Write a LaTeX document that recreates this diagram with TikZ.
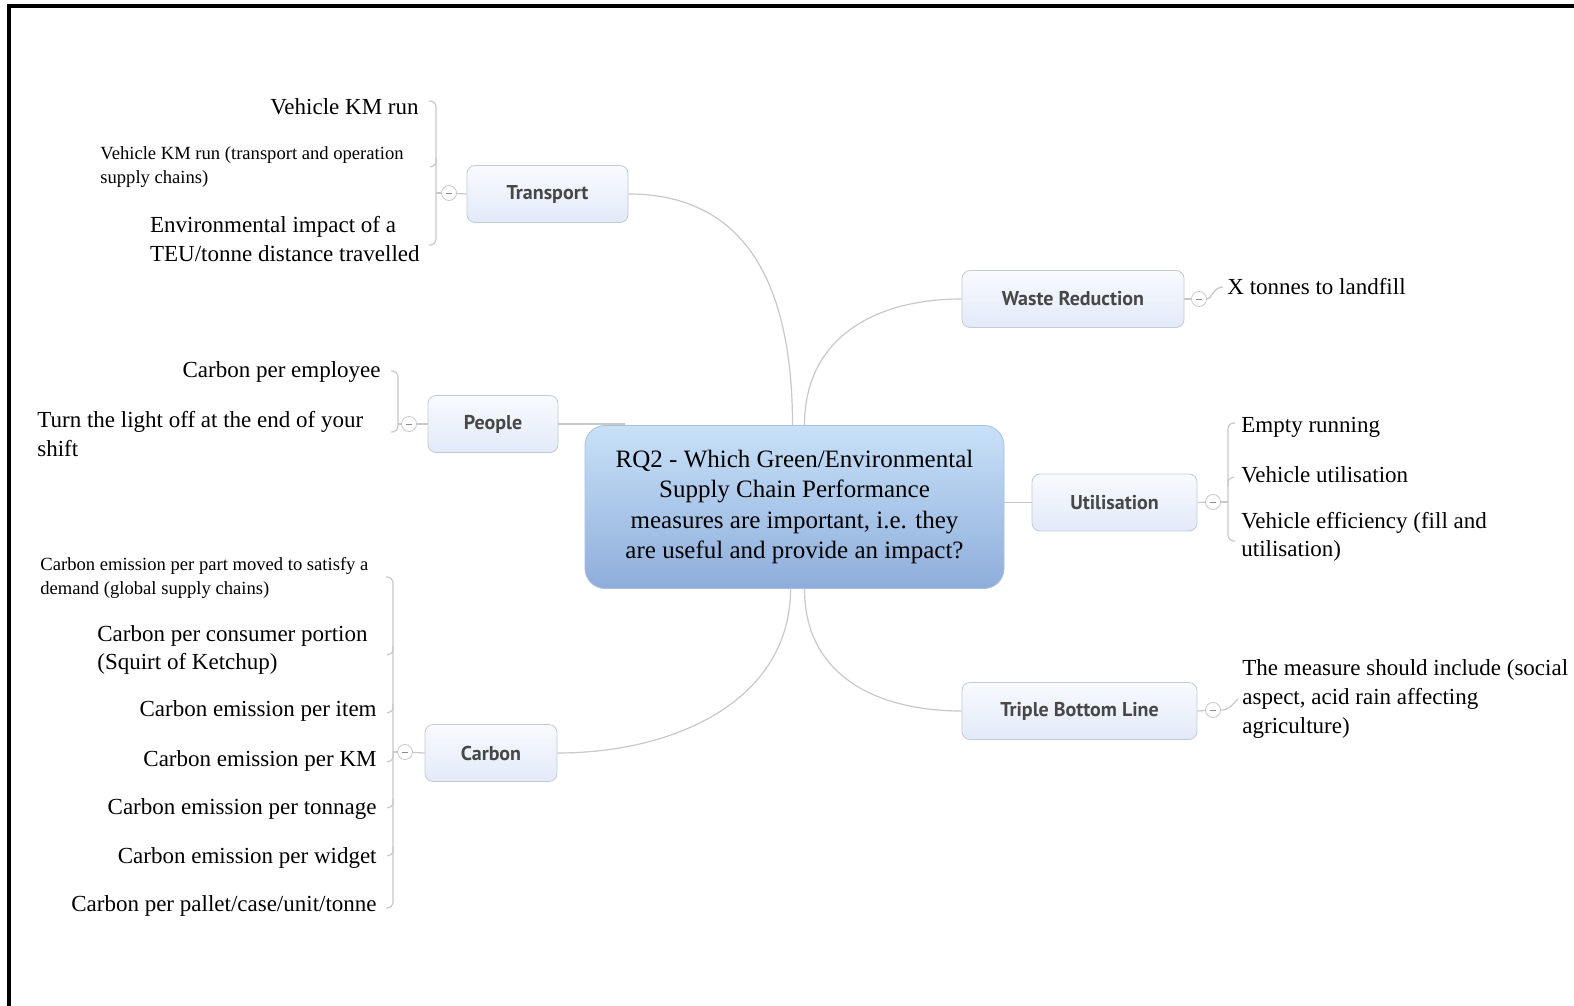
\documentclass[tikz,border=0pt]{standalone}
\usepackage{fontspec}
\setmainfont{Liberation Serif}
\newfontfamily\topicfont{PT Sans}

\definecolor{linegrey}{HTML}{C8C8C8}
\definecolor{topicedge}{HTML}{C4CAD4}
\definecolor{topictop}{HTML}{F8FAFE}
\definecolor{topicbot}{HTML}{E2EAF8}
\definecolor{rootedge}{HTML}{A9BFDD}
\definecolor{roottop}{HTML}{C8E1F8}
\definecolor{rootbot}{HTML}{8EADDA}

\tikzset{
	root/.style={draw=rootedge, rounded corners=10pt, top color=roottop, bottom color=rootbot,
		minimum width=209.5pt, minimum height=81.5pt, align=center, inner sep=0,
		font=\fontsize{12.5}{15.3}\selectfont},
	topic/.style={draw=topicedge, rounded corners=4pt, top color=topictop, bottom color=topicbot,
		minimum height=28.5pt, inner sep=0, text=black!72,
		font=\topicfont\bfseries\fontsize{10}{12}\selectfont},
	leaf/.style={inner sep=0, font=\fontsize{11.5}{14.3}\selectfont},
	smallleaf/.style={inner sep=0, font=\fontsize{9.3}{12}\selectfont},
	branch/.style={draw=linegrey, line width=0.6pt},
	brace/.style={draw=linegrey, line width=0.6pt, rounded corners=3pt},
	fold/.style={circle, draw=linegrey, fill=white, minimum size=7.5pt, inner sep=0,
		path picture={\draw[black!45, line width=0.5pt]
			(path picture bounding box.center) ++(-1.6pt,0) -- ++(3.2pt,0);}},
}

\begin{document}
\begin{tikzpicture}[x=0.5pt, y=-0.5pt]
\useasboundingbox (0,0) rectangle (1574,1006);
\draw[line width=1.6pt] (1574,6) -- (9,6) -- (9,1006);

% centre and main topics
\node[root] (rq) at (794.5,507) {RQ2 - Which Green/Environmental\\Supply Chain Performance\\measures are important, i.e. they\\are useful and provide an impact?};

\node[topic, minimum width=80.5pt] (transport) at (547.5,194) {Transport};
\node[topic, minimum width=65pt] (people) at (493,424) {People};
\node[topic, minimum width=66pt] (carbon) at (491,753) {Carbon};
\node[topic, minimum width=111pt] (waste) at (1073,299) {Waste Reduction};
\node[topic, minimum width=82.5pt] (util) at (1114.5,502.5) {Utilisation};
\node[topic, minimum width=117.5pt] (tbl) at (1079.5,711) {Triple Bottom Line};

\coordinate (pe) at (625,424);
\draw[branch] (transport.east) .. controls +(130,0) and +(0,-120) .. ([xshift=-1pt]rq.north);
\draw[branch] ([xshift=5pt]rq.north) .. controls +(0,-85) and +(-90,0) .. (waste.west);
\draw[branch] (people.east) -- (pe);
\draw[branch] (util.west -| rq.east) -- (util.west);
\draw[branch] ([xshift=-2pt]rq.south) .. controls +(0,110) and +(120,0) .. (carbon.east);
\draw[branch] ([xshift=5pt]rq.south) .. controls +(0,90) and +(-80,0) .. (tbl.west);

% fold buttons
\node[fold] (transport-f) at (449,193) {};
\node[fold] (people-f) at (409,424) {};
\node[fold] (carbon-f) at (405,752) {};
\node[fold] (waste-f) at (1199,299) {};
\node[fold] (util-f) at (1213,502) {};
\node[fold] (tbl-f) at (1213,710) {};
\draw[branch] (transport-f) -- (transport.west);
\draw[branch] (people-f) -- (people.west);
\draw[branch] (carbon-f) -- (carbon.west);
\draw[branch] (waste.east) -- (waste-f);
\draw[branch] (util.east) -- (util-f);
\draw[branch] (tbl.east) -- (tbl-f);

% Transport
\node[leaf, anchor=east] (t1) at (419,107) {Vehicle KM run};
\node[smallleaf, anchor=west, align=left] (t2) at (100,167) {Vehicle KM run (transport and operation\\supply chains)};
\node[leaf, anchor=east, align=left] (t3) at (420,239) {Environmental impact of a\\TEU/tonne distance travelled};
\coordinate (tb) at (436,193);
\draw[brace] (429,101) -| (436,170) |- (429,245);
\foreach \y in {167}
	\draw[brace] (436,\y-9) .. controls (436,\y-2) .. (430,\y);
\draw[branch] (transport-f) -- (tb);

% People
\node[leaf, anchor=east] (p1) at (381,372) {Carbon per employee};
\node[leaf, anchor=west, align=left] (p2) at (37,434) {Turn the light off at the end of your\\shift};
\coordinate (pb) at (398,424);
\draw[brace] (391,371) -| (398,400) |- (391,432);
\draw[branch] (people-f) -- (pb);

% Carbon
\node[smallleaf, anchor=west, align=left] (c1) at (40,578) {Carbon emission per part moved to satisfy a\\demand (global supply chains)};
\node[leaf, anchor=west, align=left] (c2) at (97,650) {Carbon per consumer portion\\(Squirt of Ketchup)};
\node[leaf, anchor=east] (c3) at (377,711) {Carbon emission per item};
\node[leaf, anchor=east] (c4) at (377,761) {Carbon emission per KM};
\node[leaf, anchor=east] (c5) at (377,809) {Carbon emission per tonnage};
\node[leaf, anchor=east] (c6) at (377,858) {Carbon emission per widget};
\node[leaf, anchor=east] (c7) at (377,906) {Carbon per pallet/case/unit/tonne};
\coordinate (cb) at (393,752);
\draw[brace] (386,577) -| (393,740) |- (386,908);
\foreach \y in {655, 713, 762, 808, 856}
	\draw[brace] (393,\y-9) .. controls (393,\y-2) .. (387,\y);
\draw[branch] (carbon-f) -- (cb);

% Waste Reduction
\node[leaf, anchor=west] (w1) at (1227,287) {X tonnes to landfill};
\draw[branch] (waste-f.east) .. controls (1212,299) and (1213,287) .. ([xshift=-2pt]w1.west);

% Utilisation
\node[leaf, anchor=west] (u1) at (1241,427) {Empty running};
\node[leaf, anchor=west] (u2) at (1241,475) {Vehicle utilisation};
\node[leaf, anchor=west, align=left] (u3) at (1241,537) {Vehicle efficiency (fill and\\utilisation)};
\coordinate (ub) at (1228,502);
\draw[brace] (1235,423) -| (1228,480) |- (1235,541);
\foreach \y in {477}
	\draw[brace] (1228,\y+9) .. controls (1228,\y+2) .. (1234,\y);
\draw[branch] (util-f) -- (ub);

% Triple Bottom Line
\node[leaf, anchor=west, align=left] (b1) at (1242,699) {The measure should include (social\\aspect, acid rain affecting\\agriculture)};
\draw[branch] (tbl-f.east) .. controls +(8,0) and +(-6,6) .. ([xshift=-2pt]b1.west);
\end{tikzpicture}
\end{document}
